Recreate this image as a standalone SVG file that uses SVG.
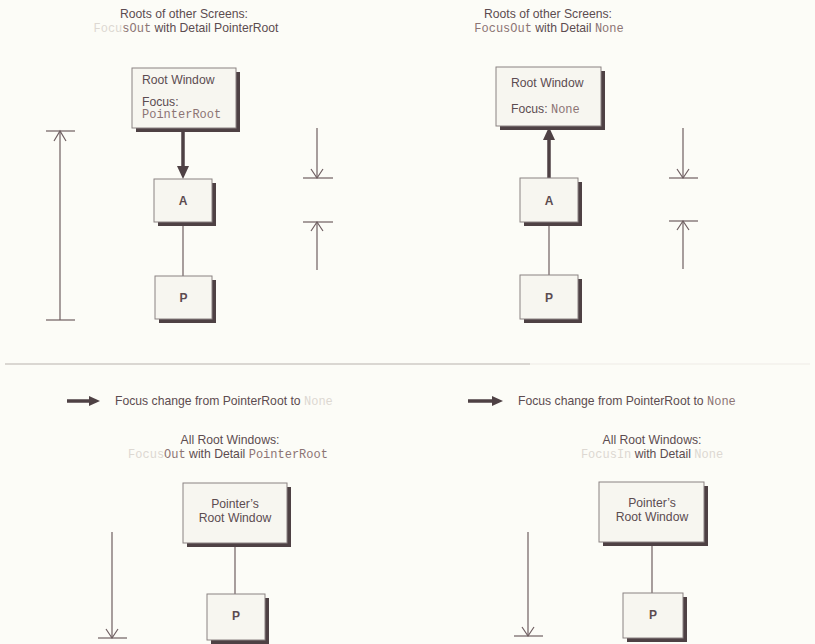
<svg xmlns="http://www.w3.org/2000/svg" width="815" height="644" viewBox="0 0 815 644">
<defs>
<style>
.t{font-family:"Liberation Sans",Arial,sans-serif;font-size:12.2px;fill:#5c4c50}
.m{font-family:"Liberation Mono","Courier New",monospace;font-size:12px;fill:#8c7474}
.mf{fill:#ddd8d2}
.b{font-family:"Liberation Sans",Arial,sans-serif;font-size:12px;font-weight:bold;fill:#5c4c50}
.box{fill:#f7f6f0;stroke:#8a8282;stroke-width:1}
.sh{fill:#4e4144}
.ln{stroke:#6e5e60;stroke-width:1.2;fill:none}
.thk{stroke:#4e4144;stroke-width:3.5;fill:none}
.hd{fill:#4e4144}
</style>
</defs>
<rect width="815" height="644" fill="#fcfcf7"/>

<!-- divider -->
<line x1="5" y1="364" x2="530" y2="364" stroke="#cfcbc6" stroke-width="1.5"/>
<line x1="530" y1="364" x2="810" y2="364" stroke="#eeebe6" stroke-width="1"/>

<!-- headers -->
<g id="hdr-tl">
<text class="t" x="184" y="17.5" text-anchor="middle">Roots of other Screens:</text>
<text class="t" x="186" y="32" text-anchor="middle"><tspan class="m mf">Focu</tspan><tspan class="m" fill="#aaa0a0">sOut</tspan> with Detail PointerRoot</text>
</g>
<g id="hdr-tr">
<text class="t" x="548" y="17.5" text-anchor="middle">Roots of other Screens:</text>
<text class="t" x="549" y="32" text-anchor="middle"><tspan class="m">FocusOut</tspan> with Detail <tspan class="m">None</tspan></text>
</g>
<g id="hdr-bl">
<text class="t" x="230" y="443.5" text-anchor="middle">All Root Windows:</text>
<text class="t" x="228" y="458" text-anchor="middle"><tspan class="m mf">Focus</tspan><tspan class="m" fill="#b8aeae">Out</tspan> with Detail <tspan class="m" fill="#c8c0bc">PointerRoot</tspan></text>
</g>
<g id="hdr-br">
<text class="t" x="652" y="443.5" text-anchor="middle">All Root Windows:</text>
<text class="t" x="652" y="458" text-anchor="middle"><tspan class="m mf">FocusIn</tspan> with Detail <tspan class="m mf">None</tspan></text>
</g>

<!-- focus change captions -->
<g id="cap-l">
<line x1="67" y1="401" x2="94" y2="401" stroke="#4e4144" stroke-width="3.5"/>
<polygon class="hd" points="89,396 100,401 89,406"/>
<text class="t" x="115" y="405">Focus change from PointerRoot to <tspan class="m mf">None</tspan></text>
</g>
<g id="cap-r">
<line x1="468" y1="401" x2="497" y2="401" stroke="#4e4144" stroke-width="3.5"/>
<polygon class="hd" points="492,396 503,401 492,406"/>
<text class="t" x="518" y="405">Focus change from PointerRoot to <tspan class="m" fill="#cfc8c4">None</tspan></text>
</g>

<!-- connectors -->
<g id="connectors">
<line class="thk" x1="183" y1="128" x2="183" y2="168"/>
<polygon class="hd" points="177,166 189,166 183,179"/>
<line class="ln" x1="183" y1="222" x2="183" y2="276"/>
<line class="thk" x1="549" y1="178" x2="549" y2="138"/>
<polygon class="hd" points="543,140 555,140 549,127"/>
<line class="ln" x1="549" y1="222" x2="549" y2="275"/>
<line class="ln" x1="235" y1="543" x2="235" y2="594"/>
<line class="ln" x1="652" y1="542" x2="652" y2="593"/>

<line class="ln" x1="60" y1="131" x2="60" y2="320"/>
<line class="ln" x1="46" y1="131" x2="75" y2="131"/>
<polyline class="ln" points="54,141 60,131 66,141"/>
<line class="ln" x1="46" y1="320" x2="75" y2="320"/>

<line class="ln" x1="317" y1="128" x2="317" y2="178"/>
<polyline class="ln" points="311,169 317,178 323,169"/>
<line class="ln" x1="303" y1="178" x2="333" y2="178"/>
<line class="ln" x1="303" y1="222" x2="333" y2="222"/>
<polyline class="ln" points="311,231 317,222 323,231"/>
<line class="ln" x1="317" y1="222" x2="317" y2="270"/>

<line class="ln" x1="683" y1="128" x2="683" y2="178"/>
<polyline class="ln" points="677,169 683,178 689,169"/>
<line class="ln" x1="669" y1="178" x2="698" y2="178"/>
<line class="ln" x1="669" y1="221" x2="698" y2="221"/>
<polyline class="ln" points="677,230 683,221 689,230"/>
<line class="ln" x1="683" y1="221" x2="683" y2="269"/>

<line class="ln" x1="112" y1="532" x2="112" y2="638"/>
<polyline class="ln" points="106,629 112,638 118,629"/>
<line class="ln" x1="98" y1="638" x2="127" y2="638"/>
<line class="ln" x1="528" y1="532" x2="528" y2="636"/>
<polyline class="ln" points="522,627 528,636 534,627"/>
<line class="ln" x1="514" y1="636" x2="543" y2="636"/>
</g>

<!-- nodes -->
<g id="root-tl">
<rect class="sh" x="136" y="72" width="104" height="60"/>
<rect class="box" x="132" y="68" width="104" height="60"/>
<text class="t" x="142" y="84">Root Window</text>
<text class="t" x="142" y="106">Focus:</text>
<text class="m" x="142" y="118">PointerRoot</text>
</g>
<g id="a-tl">
<rect class="sh" x="158" y="183" width="58" height="43"/>
<rect class="box" x="154" y="179" width="58" height="43"/>
<text class="b" x="183" y="205" text-anchor="middle">A</text>
</g>
<g id="p-tl">
<rect class="sh" x="159" y="280" width="57" height="43"/>
<rect class="box" x="155" y="276" width="57" height="43"/>
<text class="b" x="183.5" y="302" text-anchor="middle">P</text>
</g>

<g id="root-tr">
<rect class="sh" x="500" y="71" width="105" height="59"/>
<rect class="box" x="496" y="67" width="105" height="59"/>
<text class="t" x="511" y="87">Root Window</text>
<text class="t" x="511" y="113">Focus: <tspan class="m">None</tspan></text>
</g>
<g id="a-tr">
<rect class="sh" x="524" y="182" width="58" height="44"/>
<rect class="box" x="520" y="178" width="58" height="44"/>
<text class="b" x="549" y="205" text-anchor="middle">A</text>
</g>
<g id="p-tr">
<rect class="sh" x="524" y="279" width="58" height="44"/>
<rect class="box" x="520" y="275" width="58" height="44"/>
<text class="b" x="549" y="302" text-anchor="middle">P</text>
</g>

<g id="root-bl">
<rect class="sh" x="187" y="487" width="104" height="60"/>
<rect class="box" x="183" y="483" width="104" height="60"/>
<text class="t" x="235" y="508" text-anchor="middle">Pointer’s</text>
<text class="t" x="235" y="522" text-anchor="middle">Root Window</text>
</g>
<g id="p-bl">
<rect class="sh" x="211" y="598" width="58" height="46"/>
<rect class="box" x="207" y="594" width="58" height="46"/>
<text class="b" x="236" y="620" text-anchor="middle">P</text>
</g>

<g id="root-br">
<rect class="sh" x="603" y="486" width="105" height="60"/>
<rect class="box" x="599" y="482" width="105" height="60"/>
<text class="t" x="652" y="507" text-anchor="middle">Pointer’s</text>
<text class="t" x="652" y="521" text-anchor="middle">Root Window</text>
</g>
<g id="p-br">
<rect class="sh" x="627" y="597" width="60" height="45"/>
<rect class="box" x="623" y="593" width="60" height="45"/>
<text class="b" x="653" y="619" text-anchor="middle">P</text>
</g>
</svg>
